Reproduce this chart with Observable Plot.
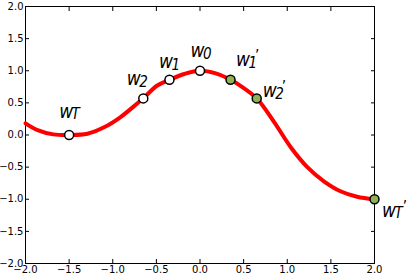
<!DOCTYPE html>
<html>
<head>
<meta charset="utf-8">
<script src="https://cdn.jsdelivr.net/npm/d3@7"></script>
<script src="https://cdn.jsdelivr.net/npm/@observablehq/plot@0.6"></script>
<style>
  html, body { margin: 0; padding: 0; background: #fff; }
  #chart svg { display: block; }
</style>
</head>
<body>
<div id="chart"></div>
<script>
// Curve samples
const curveX = [-2.0, -1.87, -1.68, -1.5, -1.29, -1.1, -0.91, -0.72, -0.65, -0.49, -0.35, -0.18, 0.0, 0.18, 0.35, 0.46, 0.65, 0.85, 1.04, 1.23, 1.42, 1.61, 1.8, 2.0];
const curveY = [0.18, 0.08, 0.01, 0.0, 0.02, 0.12, 0.28, 0.49, 0.57, 0.77, 0.86, 0.95, 1.0, 0.96, 0.86, 0.77, 0.57, 0.2, -0.19, -0.5, -0.72, -0.875, -0.96, -1.0];

// Marked points
const pointX = [-1.5, -0.65, -0.35, 0.0, 0.35, 0.65, 2.0];
const pointY = [0.0, 0.57, 0.86, 1.0, 0.86, 0.57, -1.0];
const pointSub = ["T", "2", "1", "0", "1", "2", "T"];
const pointPrime = [false, false, false, false, true, true, true];

// Tick values
const xTicks = [-2.0, -1.5, -1.0, -0.5, 0.0, 0.5, 1.0, 1.5, 2.0];
const yTicks = [-2.0, -1.5, -1.0, -0.5, 0.0, 0.5, 1.0, 1.5, 2.0];

const curve = curveX.map((x, i) => ({x, y: curveY[i]}));
const points = pointX.map((x, i) => ({x, y: pointY[i], sub: pointSub[i], prime: pointPrime[i]}));

// label placement (pixel offsets of the "w" glyph from its point: left, baseline)
const labelOffset = [[-10, -17.5], [-16.5, -13.5], [-10.5, -12], [-9.5, -13.5], [5.5, -14], [6, -1], [7.5, 17.5]];

const fmt = d3.format(".1f");
const labelFont = "DejaVu Sans Condensed, DejaVu Sans, sans-serif";

const labelMarks = points.map((p, i) => {
  const [dx, dy] = labelOffset[i];
  return Plot.text([p], {x: "x", y: "y", text: () => "w", dx, dy, textAnchor: "start", lineAnchor: "bottom",
    fontSize: 19, fontStyle: "italic", fontFamily: labelFont, fill: "black"});
});

const chart = Plot.plot({
  width: 416,
  height: 277,
  marginLeft: 25,
  marginRight: 42,
  marginTop: 6,
  marginBottom: 14,
  style: {fontFamily: "DejaVu Sans, sans-serif", fontSize: "10px", background: "white", overflow: "visible"},
  x: {domain: [-2, 2]},
  y: {domain: [-2, 2]},
  marks: [
    Plot.axisX(xTicks, {anchor: "bottom", tickSize: -4, tickPadding: 6, tickFormat: fmt, label: null, fill: "black", stroke: "black"}),
    Plot.axisX(xTicks, {anchor: "top", tickSize: -4, tickFormat: () => "", label: null, stroke: "black"}),
    Plot.axisY(yTicks, {anchor: "left", tickSize: -4, tickPadding: 6, tickFormat: fmt, label: null, fill: "black", stroke: "black"}),
    Plot.axisY(yTicks, {anchor: "right", tickSize: -4, tickFormat: () => "", label: null, stroke: "black"}),
    Plot.frame({stroke: "black", strokeWidth: 1}),
    Plot.line(curve, {x: "x", y: "y", stroke: "red", strokeWidth: 4, curve: "catmull-rom"}),
    Plot.dot(points, {x: "x", y: "y", r: 4.5, fill: d => d.prime ? "#8fb257" : "white", stroke: "black", strokeWidth: 1.5}),
    ...labelMarks
  ]
});

// turn each "w" label into w + subscript (+ prime) within one text element
const labelTexts = Array.from(chart.querySelectorAll("text")).filter(t => t.textContent === "w");
labelTexts.forEach((t, i) => {
  const p = points[i];
  t.textContent = "";
  const ns = "http://www.w3.org/2000/svg";
  const w = document.createElementNS(ns, "tspan");
  w.textContent = "w";
  t.appendChild(w);
  const subShift = p.sub === "T" ? 1 : 2;
  const s = document.createElementNS(ns, "tspan");
  s.textContent = p.sub;
  s.setAttribute("font-size", "15");
  s.setAttribute("dx", "-1.5");
  s.setAttribute("dy", String(subShift));
  t.appendChild(s);
  if (p.prime) {
    const q = document.createElementNS(ns, "tspan");
    q.textContent = "\u2019";
    q.setAttribute("font-size", "15");
    q.setAttribute("font-style", "normal");
    q.setAttribute("dx", p.sub === "T" ? "0" : "-2");
    q.setAttribute("dy", String(-subShift - 5));
    t.appendChild(q);
  }
});

document.getElementById("chart").appendChild(chart);
</script>
</body>
</html>
